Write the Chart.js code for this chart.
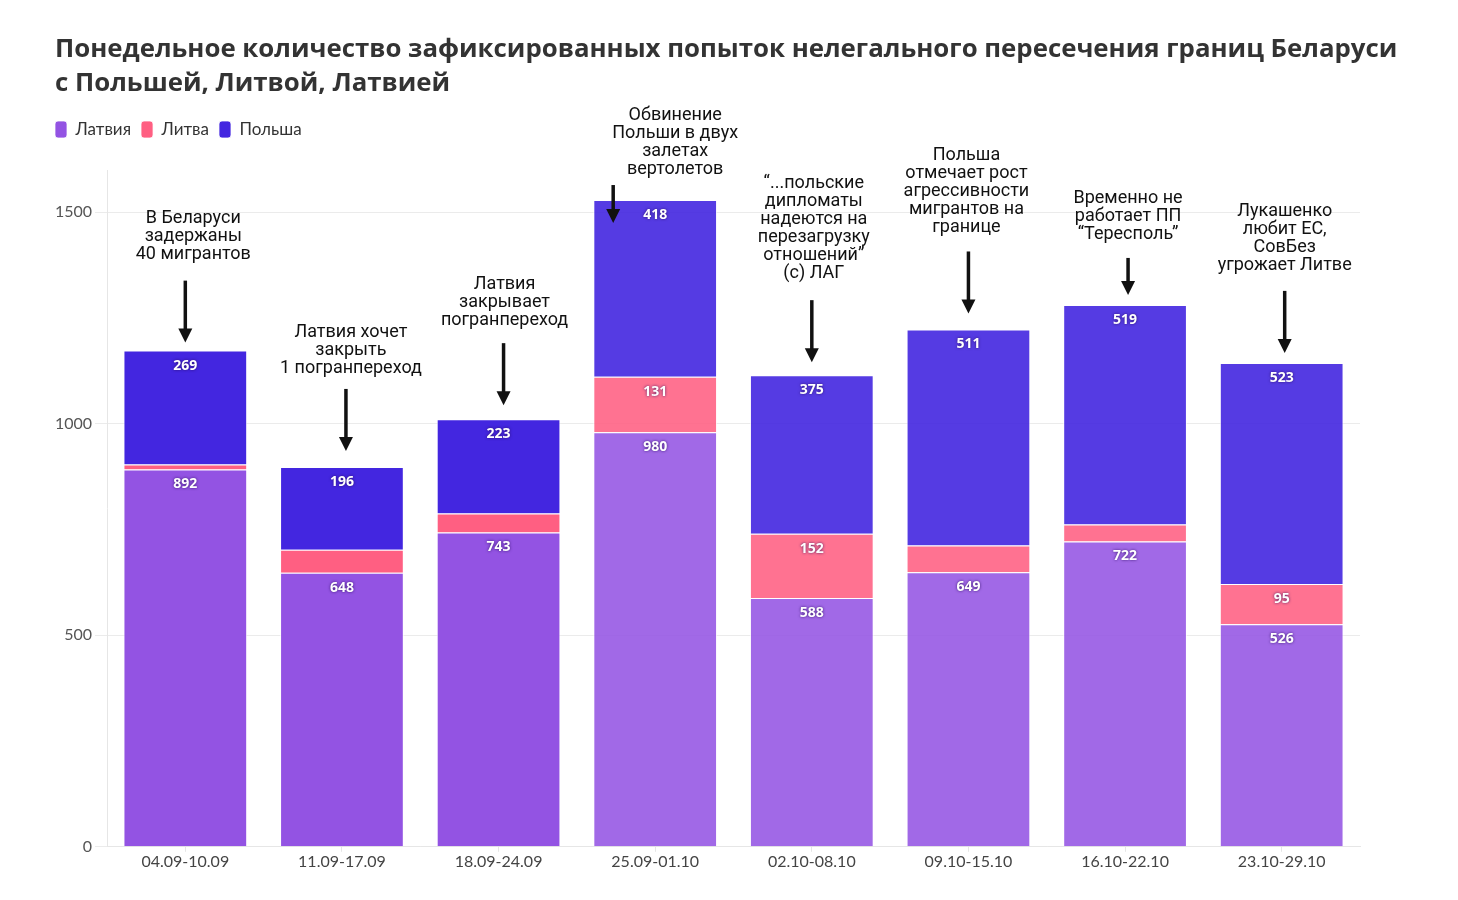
<!DOCTYPE html>
<html>
<head>
<meta charset="utf-8">
<script src="https://cdn.jsdelivr.net/npm/chart.js@4"></script>
<style>
  html, body { margin: 0; background: #fff; }
  #wrap { position: relative; width: 1458px; height: 900px; }
  #title {
    position: absolute; left: 55px; top: 30px; margin: 0;
    font: bold 25.8px/34px "Open Sans", sans-serif; color: #333;
  }
  canvas { position: absolute; left: 0; top: 0; }
</style>
</head>
<body>
<div id="wrap">
  <canvas id="chart" width="1458" height="900"></canvas>
  <h1 id="title">Понедельное количество зафиксированных попыток нелегального пересечения границ Беларуси<br>с Польшей, Литвой, Латвией</h1>
</div>
<script>
const weeks = ["04.09-10.09", "11.09-17.09", "18.09-24.09", "25.09-01.10", "02.10-08.10", "09.10-15.10", "16.10-22.10", "23.10-29.10"]
const latvia = [892, 648, 743, 980, 588, 649, 722, 526]
const lithuania = [12, 54, 45, 131, 152, 63, 40, 95]
const poland = [269, 196, 223, 418, 375, 511, 519, 523]
const yTicks = [0, 500, 1000, 1500]

const notes = [
  ["В Беларуси", "задержаны", "40 мигрантов"],
  ["Латвия хочет", "закрыть", "1 погранпереход"],
  ["Латвия", "закрывает", "погранпереход"],
  ["Обвинение", "Польши в двух", "залетах", "вертолетов"],
  ["“...польские", "дипломаты", "надеются на", "перезагрузку", "отношений”", "(с) ЛАГ"],
  ["Польша", "отмечает рост", "агрессивности", "мигрантов на", "границе"],
  ["Временно не", "работает ПП", "“Тересполь”"],
  ["Лукашенко", "любит ЕС,", "СовБез", "угрожает Литве"],
]
// where each note sits relative to its bar (pixels)
const noteLayout = [
  { dx: 8, arrowDx: 0, gap: 8, len: 62, textGap: 26 },
  { dx: 9, arrowDx: 4, gap: 16, len: 62, textGap: 20 },
  { dx: 6, arrowDx: 5, gap: 14, len: 62, textGap: 23 },
  { dx: 20, arrowDx: -42, gap: -23, len: 38, textGap: 16 },
  { dx: 2, arrowDx: 0, gap: 13, len: 62, textGap: 27 },
  { dx: -2, arrowDx: 0, gap: 16, len: 62, textGap: 24 },
  { dx: 3, arrowDx: 3, gap: 10, len: 37, textGap: 23 },
  { dx: 3, arrowDx: 3, gap: 10, len: 62, textGap: 25 },
]

// first three weeks are drawn solid, the later ones slightly see-through
const shade = (solid, light) => weeks.map((w, i) => i < 3 ? solid : light)

const valueLabels = {
  id: "valueLabels",
  afterDatasetsDraw(chart) {
    const ctx = chart.ctx
    ctx.save()
    ctx.font = 'bold 14px "Open Sans"'
    ctx.textAlign = "center"
    ctx.textBaseline = "middle"
    ctx.fillStyle = "#fff"
    ctx.shadowColor = "rgba(40,10,90,0.85)"
    ctx.shadowBlur = 3
    chart.data.datasets.forEach((ds, i) => {
      chart.getDatasetMeta(i).data.forEach((bar, j) => {
        if (bar.base - bar.y < 30) return
        ctx.fillText(ds.data[j], bar.x, bar.y + 15)
      })
    })
    ctx.restore()
  },
}

const notesPlugin = {
  id: "notes",
  afterDraw(chart) {
    const { ctx, scales: { x, y } } = chart
    ctx.save()
    notes.forEach((lines, i) => {
      const L = noteLayout[i]
      const cx = x.getPixelForValue(i)
      const top = y.getPixelForValue(latvia[i] + lithuania[i] + poland[i])
      const tipY = top - L.gap
      const startY = tipY - L.len
      const ax = cx + L.arrowDx
      ctx.strokeStyle = "#111"
      ctx.fillStyle = "#111"
      ctx.lineWidth = 3.5
      ctx.beginPath()
      ctx.moveTo(ax, startY)
      ctx.lineTo(ax, tipY - 12)
      ctx.stroke()
      ctx.beginPath()
      ctx.moveTo(ax - 7, tipY - 14)
      ctx.lineTo(ax + 7, tipY - 14)
      ctx.lineTo(ax, tipY)
      ctx.closePath()
      ctx.fill()

      ctx.font = "18px Roboto"
      ctx.textAlign = "center"
      ctx.textBaseline = "middle"
      const lastY = startY - L.textGap
      lines.forEach((s, k) => {
        ctx.fillText(s, cx + L.dx, lastY - (lines.length - 1 - k) * 18)
      })
    })
    ctx.restore()
  },
}

const legendGap = {
  id: "legendGap",
  beforeInit(chart) {
    const fit = chart.legend.fit
    chart.legend.fit = function () {
      fit.bind(chart.legend)()
      this.height += 22
    }
  },
}

new Chart("chart", {
  type: "bar",
  data: {
    labels: weeks,
    datasets: [
      {
        label: "Латвия",
        data: latvia,
        backgroundColor: shade("#9353e3", "rgba(147,83,227,0.87)"),
      },
      {
        label: "Литва",
        data: lithuania,
        backgroundColor: shade("#ff5f82", "rgba(255,95,130,0.88)"),
      },
      {
        label: "Польша",
        data: poland,
        backgroundColor: shade("#4326e0", "rgba(67,38,224,0.9)"),
      },
    ].map(ds => ({
      ...ds,
      borderColor: "rgba(255,255,255,0.75)",
      borderWidth: 1,
      barPercentage: 1,
      categoryPercentage: 0.79,
    })),
  },
  options: {
    responsive: false,
    animation: false,
    devicePixelRatio: 1,
    layout: { padding: { left: 45, right: 98, top: 111, bottom: 29 } },
    plugins: {
      tooltip: { enabled: false },
      title: { display: false },
      legend: {
        align: "start",
        labels: {
          color: "#333",
          font: { family: "Lato", size: 17 },
          boxWidth: 12,
          boxHeight: 17,
          useBorderRadius: true,
          borderRadius: 3,
          padding: 10,
        },
      },
    },
    scales: {
      x: {
        stacked: true,
        grid: { offset: false, drawOnChartArea: false, tickLength: 5, color: "#e6e6e6" },
        border: { color: "#e6e6e6" },
        ticks: { color: "#444", font: { family: "Lato", size: 16 }, padding: 0 },
      },
      y: {
        stacked: true,
        min: 0,
        max: 1600,
        afterBuildTicks: scale => {
          scale.ticks = yTicks.map(v => ({ value: v }))
        },
        afterFit: scale => {
          scale.width = 62
        },
        grid: { color: "#ebebeb", tickLength: 12 },
        border: { color: "#e6e6e6" },
        ticks: {
          color: "#555",
          font: { family: "Lato", size: 16 },
          padding: 3,
          callback: v => String(v),
        },
      },
    },
  },
  plugins: [legendGap, valueLabels, notesPlugin],
})
</script>
</body>
</html>
